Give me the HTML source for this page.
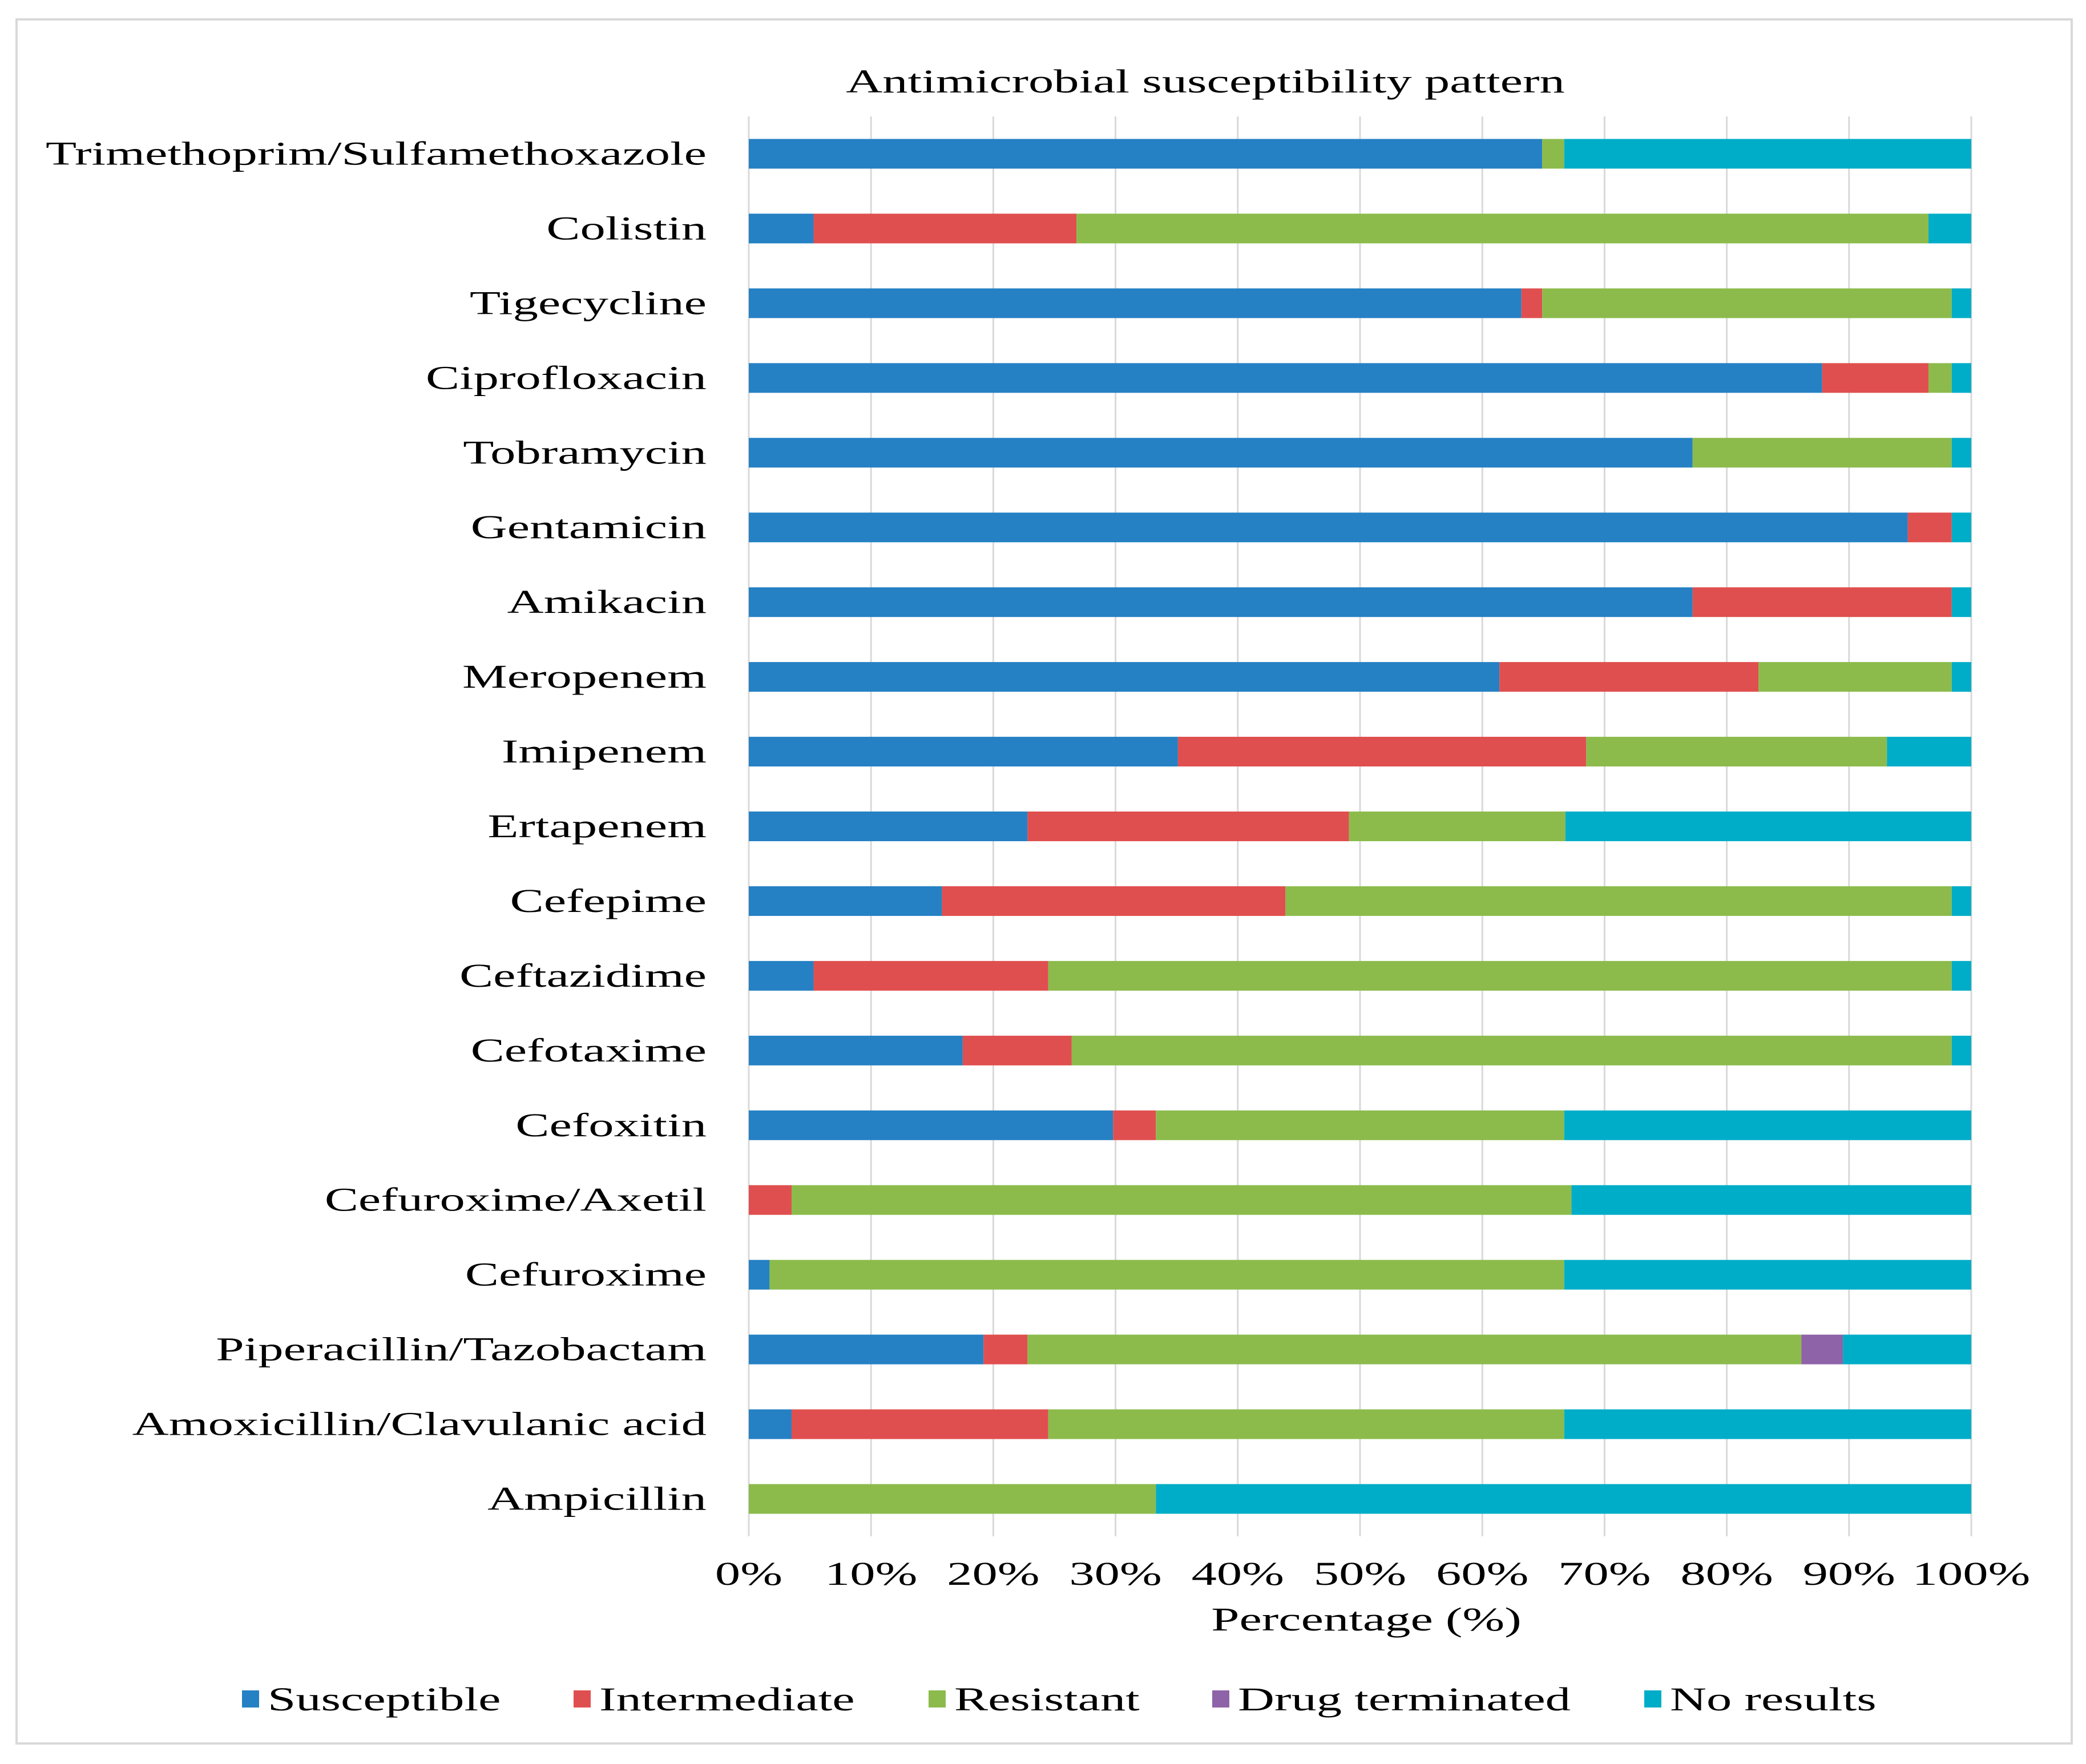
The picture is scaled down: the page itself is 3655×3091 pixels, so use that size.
<!DOCTYPE html>
<html><head><meta charset="utf-8"><style>
html,body{margin:0;padding:0;background:#fff;}
svg{display:block;}
text{font-family:"Liberation Serif",serif;fill:#000;}
</style></head><body>
<svg id="chart" width="3655" height="3091" viewBox="0 0 3655 3091" xmlns="http://www.w3.org/2000/svg">
<rect x="29" y="34" width="3601" height="3021" fill="#fff" stroke="#d9d9d9" stroke-width="4"/>
<text x="2112" y="162" font-size="58" text-anchor="middle">Antimicrobial susceptibility pattern</text>
<g id="grid"></g>
<g id="bars"></g>
<g id="ylabels"></g>
<g id="xlabels"></g>
<text x="2394" y="2857" font-size="58" text-anchor="middle">Percentage (%)</text>
<g id="legend"></g>
</svg>
<script>
const categories = ["Trimethoprim/Sulfamethoxazole","Colistin","Tigecycline","Ciprofloxacin","Tobramycin","Gentamicin","Amikacin","Meropenem","Imipenem","Ertapenem","Cefepime","Ceftazidime","Cefotaxime","Cefoxitin","Cefuroxime/Axetil","Cefuroxime","Piperacillin/Tazobactam","Amoxicillin/Clavulanic acid","Ampicillin"];
const susceptible  = [64.9,5.3,63.2,87.8,77.2,94.8,77.2,61.4,35.1,22.8,15.8,5.3,17.5,29.8,0,1.7,19.2,3.5,0];
const intermediate = [0,21.5,1.7,8.7,0,3.6,21.2,21.2,33.4,26.3,28.1,19.2,8.9,3.5,3.5,0,3.6,21.0,0];
const resistant    = [1.8,69.7,33.5,1.9,21.2,0,0,15.8,24.6,17.7,54.5,73.9,72.0,33.4,63.8,65.0,63.3,42.2,33.3];
const terminated   = [0,0,0,0,0,0,0,0,0,0,0,0,0,0,0,0,3.4,0,0];
const noResults    = [33.3,3.5,1.6,1.6,1.6,1.6,1.6,1.6,6.9,33.2,1.6,1.6,1.6,33.3,32.7,33.3,10.5,33.3,66.7];
const seriesNames  = ["Susceptible","Intermediate","Resistant","Drug terminated","No results"];
const xTicks = [0,10,20,30,40,50,60,70,80,90,100];
const xTickLabels = ["0%","10%","20%","30%","40%","50%","60%","70%","80%","90%","100%"];

const NS="http://www.w3.org/2000/svg";
const colors=["#2581C4","#E04F4F","#8CBB4C","#8E63A8","#00ADC8"];
const series=[susceptible,intermediate,resistant,terminated,noResults];
const X0=1312,X1=3454,Ytop=204,Ybot=2692;
const band=(Ybot-Ytop)/categories.length, barH=52;
const xs=v=>X0+(X1-X0)*v/100;
const yc=i=>Ytop+band*(i+0.5);
function mk(tag,attrs,parent){const e=document.createElementNS(NS,tag);for(const k in attrs)e.setAttribute(k,attrs[k]);parent.appendChild(e);return e;}
const grid=document.getElementById('grid'),bars=document.getElementById('bars'),yl=document.getElementById('ylabels'),xl=document.getElementById('xlabels'),lg=document.getElementById('legend');
xTicks.forEach((t,i)=>{
  const l=mk('line',{x1:xs(t),x2:xs(t),y1:Ytop,y2:Ybot,stroke:'#d9d9d9','stroke-width':3},grid);
  
  
  const tx=mk('text',{x:xs(t),y:2777,'font-size':58,'text-anchor':'middle'},xl);
  tx.textContent=xTickLabels[i];
  
  
});
categories.forEach((c,i)=>{
  const t=mk('text',{x:1238,y:yc(i)+19,'font-size':58,'text-anchor':'end'},yl);
  t.textContent=c;
  
  
  let acc=0;
  series.forEach((s,j)=>{
    const v=s[i];
    if(v>0){
      const r=mk('rect',{x:xs(acc),y:yc(i)-barH/2,width:xs(acc+v)-xs(acc),height:barH,fill:colors[j]},bars);
      
      
    }
    acc+=v;
  });
});
const legX=[424,1005,1627,2124,2881];
seriesNames.forEach((n,j)=>{
  const r=mk('rect',{x:legX[j],y:2962,width:30,height:30,fill:colors[j]},lg);
  
  
  const t=mk('text',{x:legX[j]+45,y:2997,'font-size':58},lg);
  t.textContent=n;
  
  
});
const ref=yl.firstChild; const k=1158/ref.getComputedTextLength();
document.querySelectorAll('text').forEach(t=>{
  const L=t.getComputedTextLength();
  t.setAttribute('textLength',L*k);
  t.setAttribute('lengthAdjust','spacingAndGlyphs');
});
</script>
</body></html>
